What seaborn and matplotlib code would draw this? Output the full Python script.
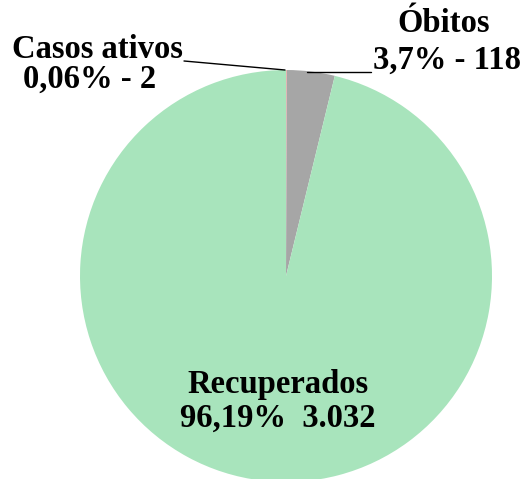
import matplotlib
matplotlib.use("Agg")
import matplotlib.pyplot as plt
import seaborn as sns

categorias = ["Casos ativos", "Óbitos", "Recuperados"]
valores = [2, 118, 3032]
percentuais = ["0,06%", "3,7%", "96,19%"]
numeros = ["2", "118", "3.032"]
cores = ["#F4A6A6", "#A6A6A6", "#A8E4BC"]

sns.set_theme(style="white")
plt.rcParams["font.family"] = ["Liberation Serif", "DejaVu Serif"]

fig = plt.figure(figsize=(5.27, 4.79), dpi=100)
ax = fig.add_axes([0, 0, 1, 1])

# pixel -> data helpers (pie centre at (286, 276) px, radius 206 px)
R = 206.0
def px(x):
    return (x - 286) / R
def py(y):
    return (276 - y) / R

ax.pie(valores, colors=cores, startangle=90, counterclock=False,
       radius=1.0, wedgeprops=dict(linewidth=0))

ax.set_xlim(px(0), px(527))
ax.set_ylim(py(479), py(0))
ax.set_aspect("auto")
ax.axis("off")

fs = 23.5
kw = dict(fontsize=fs, fontweight="bold", color="black", ha="center", va="center")

ax.text(px(97), py(49), categorias[0], **kw)
ax.text(px(90), py(79), f"{percentuais[0]} - {numeros[0]}", **kw)
ax.plot([px(184), px(285)], [py(61), py(70)], color="black", lw=1)

ax.text(px(444), py(23), categorias[1], **kw)
ax.text(px(447), py(60), f"{percentuais[1]} - {numeros[1]}", **kw)
ax.plot([px(307), px(371)], [py(72), py(72)], color="black", lw=1)

ax.text(px(278), py(385), categorias[2], **kw)
ax.text(px(278), py(418), f"{percentuais[2]}  {numeros[2]}", **kw)

fig.savefig("out.png", dpi=100)
